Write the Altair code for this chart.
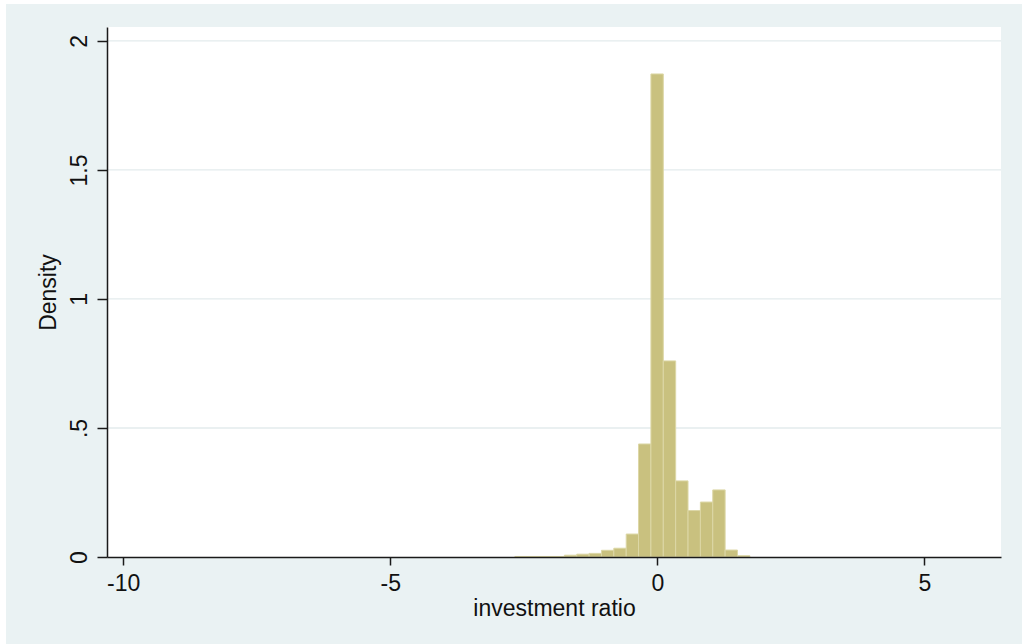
import altair as alt
import pandas as pd

# ---- data ----
bin_starts = [-2.666, -2.434, -2.203, -1.971, -1.740, -1.508, -1.277, -1.045,
              -0.814, -0.582, -0.351, -0.119, 0.113, 0.344, 0.576, 0.807,
              1.039, 1.270, 1.502]
densities = [0.002, 0.002, 0.002, 0.002, 0.007, 0.011, 0.014, 0.026,
             0.034, 0.089, 0.438, 1.872, 0.760, 0.295, 0.180, 0.213,
             0.260, 0.027, 0.005]
bin_width = 0.2315
x_ticks = [-10, -5, 0, 5]
y_ticks = [0, 0.5, 1, 1.5, 2]
grid_values = [0.5, 1, 1.5, 2]

bars_df = pd.DataFrame({"start": bin_starts, "density": densities})
bars_df["end"] = bars_df["start"] + bin_width

W, H = 894, 530
PAD_L, PAD_T, PAD_R, PAD_B = 107, 27, 21, 87
FONT = "Liberation Sans"
BG = "#EAF2F3"
INK = "#1a1a1a"

x_scale = alt.Scale(domain=[-10.304, 6.436], nice=False, zero=False)
y_scale = alt.Scale(domain=[0, 2.054], nice=False, zero=False)

common_axis = dict(
    grid=False, zindex=1,
    domainColor=INK, domainWidth=1.5,
    tickColor=INK, tickWidth=1.5,
    labelFont=FONT, labelFontSize=23, labelColor="#111111",
    titleFont=FONT, titleFontSize=23, titleColor="#111111",
    titleFontWeight="normal",
)
x_axis = alt.Axis(values=x_ticks, title="investment ratio",
                  labelExpr="toString(datum.value)",
                  tickSize=8, labelPadding=7, titlePadding=2,
                  **common_axis)
y_axis = alt.Axis(values=y_ticks, title="Density",
                  labelExpr="datum.value == 0.5 ? '.5' : toString(datum.value)",
                  labelAngle=-90, labelAlign="center",
                  labelBaseline="alphabetic",
                  tickSize=10, labelPadding=11, titlePadding=8,
                  **common_axis)

one = pd.DataFrame({"a": [0]})

outer_bg = alt.Chart(one).mark_rect(color=BG).encode(
    x=alt.value(6 - PAD_L), x2=alt.value(W + PAD_R),
    y=alt.value(4 - PAD_T), y2=alt.value(H + PAD_B),
)
plot_bg = alt.Chart(one).mark_rect(color="white").encode(
    x=alt.value(0), x2=alt.value(W), y=alt.value(0), y2=alt.value(H),
)
grid = alt.Chart(pd.DataFrame({"density": grid_values})).mark_rule(
    color="#E3EBED", strokeWidth=1.3
).encode(
    y=alt.Y("density:Q", scale=y_scale, axis=y_axis),
    x=alt.value(0), x2=alt.value(W),
)

bars = alt.Chart(bars_df).mark_rect(
    fill="#C9C17F", stroke="#DCD7A6", strokeWidth=1
).encode(
    x=alt.X("start:Q", scale=x_scale, axis=x_axis),
    x2="end:Q",
    y=alt.Y("density:Q", scale=y_scale, axis=y_axis),
)

chart = alt.layer(outer_bg, plot_bg, grid, bars).properties(
    width=W, height=H,
    autosize=alt.AutoSizeParams(type="none"),
    padding={"left": PAD_L, "top": PAD_T, "right": PAD_R, "bottom": PAD_B},
    background="white",
).configure_view(
    strokeWidth=0
)

chart.save("out.html", embed_options={"renderer": "svg", "actions": False})
